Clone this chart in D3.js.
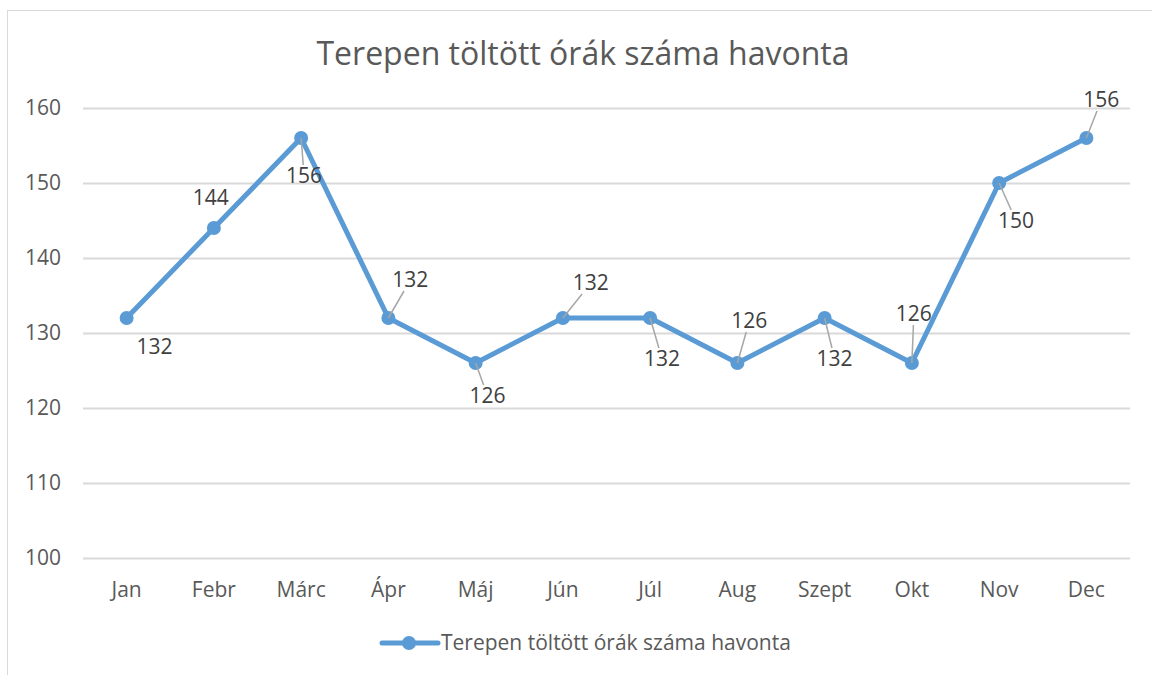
<!DOCTYPE html>
<html>
<head>
<meta charset="utf-8">
<script src="https://cdn.jsdelivr.net/npm/d3@7"></script>
<style>
    body { margin: 0; background: #fff; }
    svg { display: block; font-family: "Open Sans", "Noto Sans", sans-serif; }
</style>
</head>
<body>
<div id="chart"></div>
<script>
// adatok
const months = ["Jan", "Febr", "Márc", "Ápr", "Máj", "Jún", "Júl", "Aug", "Szept", "Okt", "Nov", "Dec"];
const hours = [132, 144, 156, 132, 126, 132, 132, 126, 132, 126, 150, 156];
const yTicks = [100, 110, 120, 130, 140, 150, 160];
const seriesName = "Terepen töltött órák száma havonta";
const chartTitle = "Terepen töltött órák száma havonta";

// címke eltolások a ponttól (dx, dy) - az eredeti elrendezés szerint
const labelOffsets = [
    [28, 29], [-3, -30], [3, 38], [22, -38], [12, 33], [28, -35],
    [12, 41], [12, -42], [10, 41], [2, -49], [17, 38], [15, -38]
];

const width = 1152, height = 675;
const margin = { top: 108, right: 22, bottom: 117, left: 83 };

const svg = d3.select("#chart").append("svg")
    .attr("width", width)
    .attr("height", height);

// keret
svg.append("rect")
    .attr("x", 7.5).attr("y", 10.5)
    .attr("width", width + 10).attr("height", height + 10)
    .attr("fill", "#fff")
    .attr("stroke", "#d9d9d9")
    .attr("stroke-width", 1);

const x = d3.scaleBand()
    .domain(months)
    .range([margin.left, width - margin.right])
    .padding(0);

const y = d3.scaleLinear()
    .domain([100, 160])
    .range([height - margin.bottom, margin.top]);

// rácsvonalak
svg.append("g")
    .selectAll("line")
    .data(yTicks)
    .enter().append("line")
    .attr("x1", margin.left)
    .attr("x2", width - margin.right)
    .attr("y1", d => Math.round(y(d)) + 0.5)
    .attr("y2", d => Math.round(y(d)) + 0.5)
    .attr("stroke", "#d9d9d9")
    .attr("stroke-width", 2);

// y tengely feliratok
svg.append("g")
    .selectAll("text")
    .data(yTicks)
    .enter().append("text")
    .attr("x", 61)
    .attr("y", d => y(d))
    .attr("dy", "0.35em")
    .attr("text-anchor", "end")
    .attr("font-size", 21)
    .attr("fill", "#595959")
    .text(d => d);

// x tengely feliratok
svg.append("g")
    .selectAll("text")
    .data(months)
    .enter().append("text")
    .attr("x", d => x(d) + x.bandwidth() / 2)
    .attr("y", 597)
    .attr("text-anchor", "middle")
    .attr("font-size", 21)
    .attr("fill", "#595959")
    .text(d => d);

// cím
svg.append("text")
    .attr("x", 583)
    .attr("y", 65)
    .attr("text-anchor", "middle")
    .attr("font-size", 32)
    .attr("fill", "#595959")
    .text(chartTitle);

const points = months.map((m, i) => ({
    month: m,
    value: hours[i],
    px: x(m) + x.bandwidth() / 2,
    py: y(hours[i]),
    lx: x(m) + x.bandwidth() / 2 + labelOffsets[i][0],
    ly: y(hours[i]) + labelOffsets[i][1]
}));

// vonal
const line = d3.line()
    .x(d => d.px)
    .y(d => d.py);

svg.append("path")
    .datum(points)
    .attr("d", line)
    .attr("fill", "none")
    .attr("stroke", "#5b9bd5")
    .attr("stroke-width", 5)
    .attr("stroke-linejoin", "round");

svg.append("g")
    .selectAll("circle")
    .data(points)
    .enter().append("circle")
    .attr("cx", d => d.px)
    .attr("cy", d => d.py)
    .attr("r", 7)
    .attr("fill", "#5b9bd5");

// vezető vonalak (vékony szürke), csak ha a címke messze van
svg.append("g")
    .selectAll("line")
    .data(points.filter(d => Math.abs(d.ly - d.py) > 30))
    .enter().append("line")
    .attr("x1", d => d.px)
    .attr("y1", d => d.py)
    .attr("x2", d => d.px + (d.lx - d.px) * (1 - 11 / Math.abs(d.ly - d.py)))
    .attr("y2", d => d.py + (d.ly - d.py) * (1 - 11 / Math.abs(d.ly - d.py)))
    .attr("stroke", "#a6a6a6")
    .attr("stroke-width", 1.5);

// adatcímkék
svg.append("g")
    .selectAll("text")
    .data(points)
    .enter().append("text")
    .attr("x", d => d.lx)
    .attr("y", d => d.ly)
    .attr("dy", "0.35em")
    .attr("text-anchor", "middle")
    .attr("font-size", 21)
    .attr("fill", "#404040")
    .text(d => d.value);

// jelmagyarázat
const legend = svg.append("g");
legend.append("line")
    .attr("x1", 382).attr("x2", 438)
    .attr("y1", 643).attr("y2", 643)
    .attr("stroke", "#5b9bd5")
    .attr("stroke-width", 5)
    .attr("stroke-linecap", "round");
legend.append("circle")
    .attr("cx", 409).attr("cy", 643)
    .attr("r", 7)
    .attr("fill", "#5b9bd5");
legend.append("text")
    .attr("x", 441)
    .attr("y", 643)
    .attr("dy", "0.35em")
    .attr("font-size", 21)
    .attr("fill", "#595959")
    .text(seriesName);
</script>
</body>
</html>
